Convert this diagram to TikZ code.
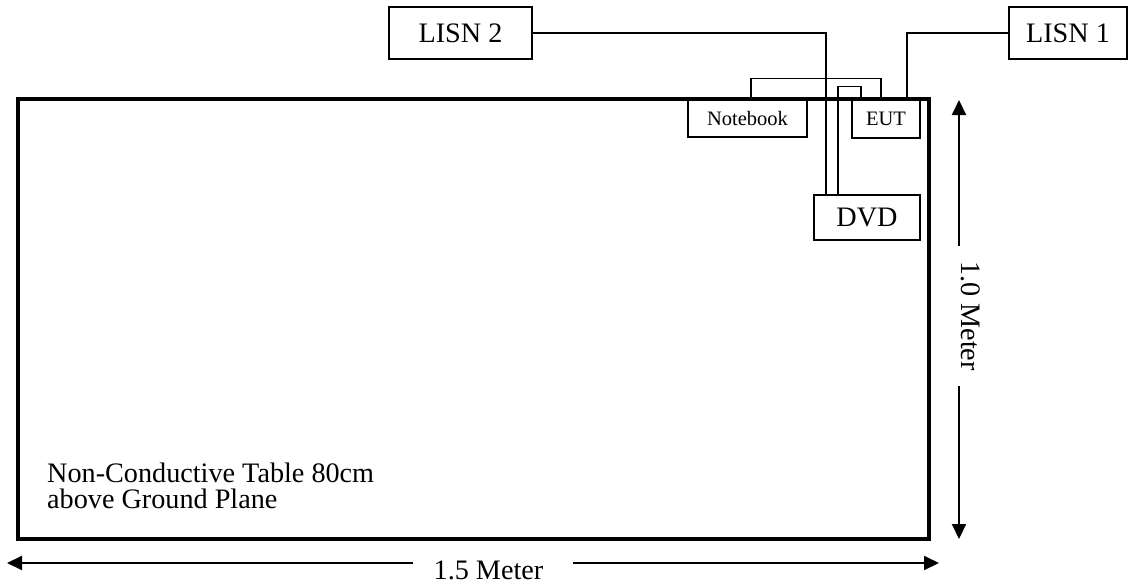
\documentclass[tikz,border=0pt]{standalone}
\usepackage{fontspec}
\setmainfont{Liberation Serif}
\usetikzlibrary{arrows.meta, positioning}

\begin{document}
\begin{tikzpicture}[x=1pt, y=-1pt,
  bigtxt/.style={font=\fontsize{28.2}{26}\selectfont},
  smalltxt/.style={font=\fontsize{20.5}{24}\selectfont},
  unit/.style={draw, line width=1.6pt, fill=white, inner sep=0pt},
  wire/.style={line width=1.4pt},
  dimline/.style={line width=2pt, -{Triangle[length=15pt,width=14pt]}}]
\useasboundingbox (0,0) rectangle (1128,584);

% Table outline and caption
\draw[line width=4pt] (18,99) rectangle (929,539);
\node[bigtxt, align=left, anchor=north west, inner sep=0pt] (tbl) at (47,463) {Non-Conductive Table 80cm\\above Ground Plane};

% Units on and around the table
\node[unit, smalltxt, line width=1.3pt, minimum width=119pt, minimum height=37pt] (nb) at (747.5,118.5) {Notebook};
\node[unit, smalltxt, line width=1.3pt, minimum width=68pt, minimum height=38pt] (eut) at (886,119) {EUT};
\node[unit, bigtxt, minimum width=106pt, minimum height=45pt] (dvd) at (867,217.5) {DVD};
\node[unit, bigtxt, minimum width=143pt, minimum height=52pt] (lisn2) at (460.5,33) {LISN 2};
\node[unit, bigtxt, minimum width=118pt, minimum height=52pt] (lisn1) at (1068,33) {LISN 1};

% Cables
\draw[wire] ([xshift=3.5pt]nb.north) -- ++(0,-21) -| ([xshift=-5pt]eut.north);
\draw[wire] (lisn2.east) -| ([xshift=-41pt]dvd.north);
\draw[wire] ([xshift=-29pt]dvd.north) -- ++(0,-108) -| ([xshift=-25pt]eut.north);
\draw[wire] ([xshift=21pt]eut.north) |- (lisn1.west);

% Width dimension
\coordinate (hl) at (7,563);
\coordinate (hr) at (939,563);
\node[bigtxt, inner ysep=0pt, inner xsep=20pt] (wlab) at (488.5,570) {1.5 Meter};
\draw[dimline] (wlab.west |- hl) -- (hl);
\draw[dimline] ([xshift=9pt]wlab.east |- hr) -- (hr);

% Depth dimension
\coordinate (vt) at (959,100);
\coordinate (vb) at (959,539);
\node[bigtxt, rotate=-90, inner ysep=0pt, inner xsep=15pt] (dlab) at (971,316) {1.0 Meter};
\draw[dimline] (dlab.west -| vt) -- (vt);
\draw[dimline] (dlab.east -| vb) -- (vb);
\end{tikzpicture}
\end{document}
